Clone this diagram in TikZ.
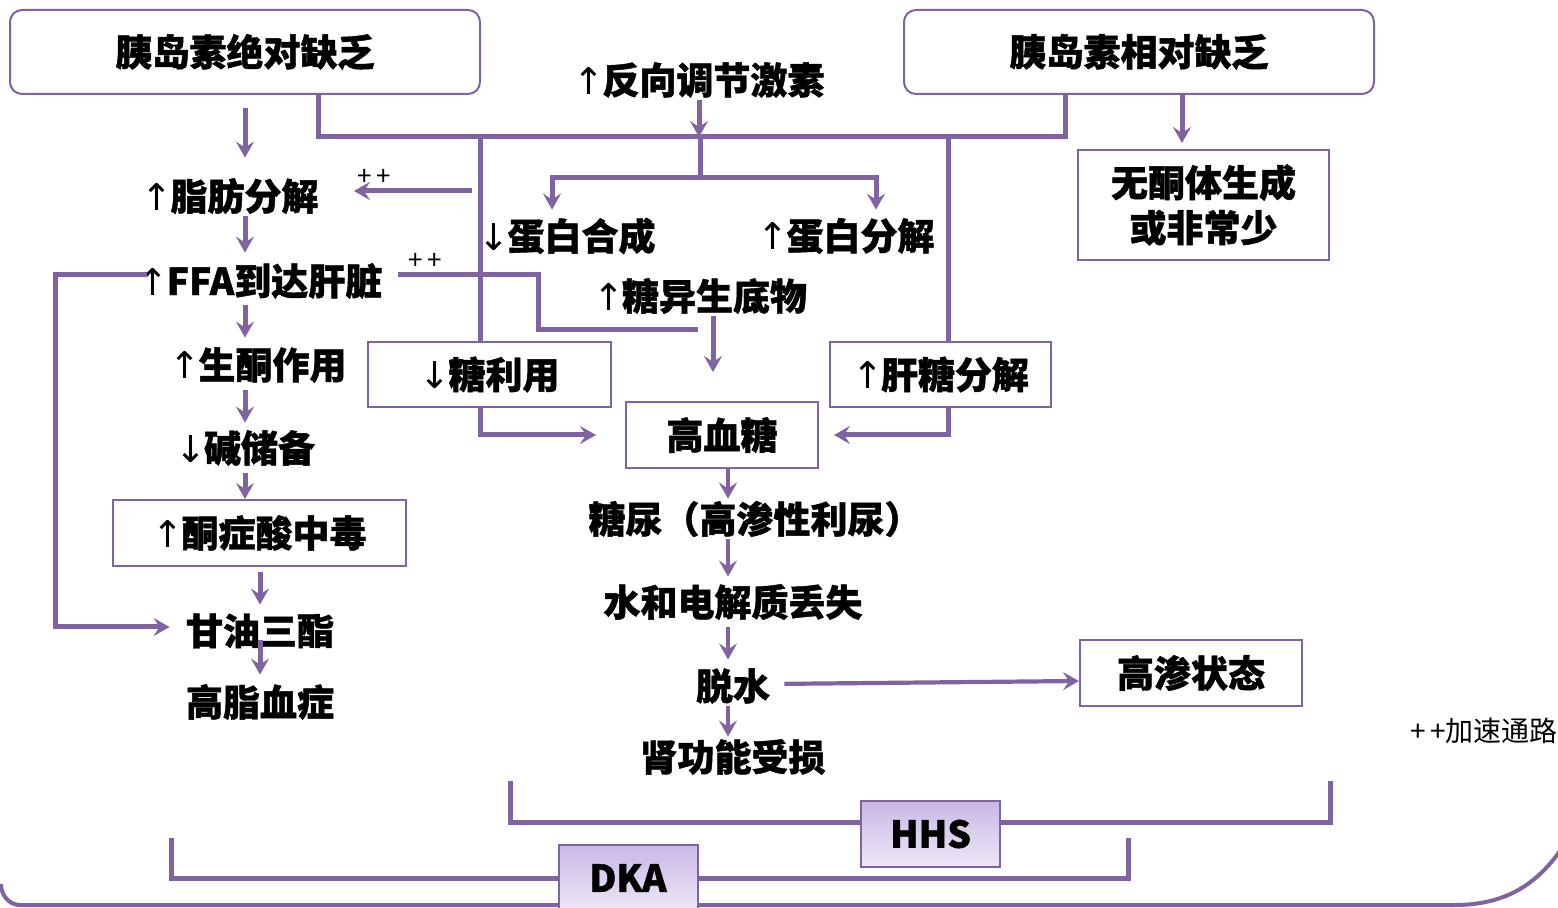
\documentclass[tikz,border=0pt]{standalone}
\usepackage{fontspec}
\setmainfont{Noto Sans CJK SC}[BoldFeatures={FakeBold=1.2}]
\newfontfamily\arwfont{DejaVu Sans}
\newcommand{\uar}{{\arwfont\mdseries ↑}\kern-1pt}
\newcommand{\dar}{{\arwfont\mdseries ↓}\kern-1pt}
\usetikzlibrary{arrows.meta,calc}
\definecolor{pur}{HTML}{8064A2}
\definecolor{gtop}{HTML}{C9B7E6}
\definecolor{gbot}{HTML}{EEE8F7}
\tikzset{
 every node/.style={inner sep=0pt},
 lbl/.style={font=\bfseries\fontsize{18.5pt}{22.5pt}\selectfont, minimum height=20pt},
 bx/.style={lbl, draw=pur, line width=1pt, fill=white},
 rbx/.style={bx, rounded corners=6pt},
 ln/.style={draw=pur, line width=2.5pt},
 arr/.style={ln, -{Stealth[length=8pt,width=9pt,inset=3pt]}},
 carr/.style={arr, line width=2.1pt},
 plus/.style={font=\fontsize{13pt}{14pt}\selectfont},
 kbox/.style={lbl, draw=pur, line width=1pt, top color=gtop, bottom color=gbot, minimum width=69.5pt, minimum height=33pt},
}
\begin{document}
\begin{tikzpicture}[x=0.5pt,y=-0.5pt]
\useasboundingbox (0,0) rectangle (1558,908);
% helper coordinates
\coordinate (colL) at (245,0);
\coordinate (colM) at (260,0);
\coordinate (colC) at (728,0);
\coordinate (jL) at (318,137);
\coordinate (jR) at (1065,137);
\coordinate (jC) at (700,137);
\coordinate (split) at (700,178);
\coordinate (v480) at (480,137);
\coordinate (v948) at (948,137);
\coordinate (pp1) at (472,191);
\coordinate (f1) at (538,275);
\coordinate (ffaEnd) at (698,330);
\coordinate (lp) at (55,627);
\coordinate (hA) at (510,781);
\coordinate (hA2) at (510,822);
\coordinate (hB2) at (1330,822);
\coordinate (hB) at (1330,781);
\coordinate (dA) at (171,838);
\coordinate (dA2) at (171,878);
\coordinate (dB2) at (1128,878);
\coordinate (dB) at (1128,838);
\coordinate (fr1) at (1,884);
\coordinate (fr2) at (20,905);
\coordinate (fr3) at (1455,905);
\coordinate (fr4) at (1562,848);
% brackets and frame
\draw[ln] (hA) -- (hA2) -- (hB2) -- (hB);
\draw[ln] (dA) -- (dA2) -- (dB2) -- (dB);
\draw[ln, line width=2pt] (fr1) to[out=-90,in=180] (fr2) -- (fr3) .. controls (1510,905) and (1540,880) .. (fr4);
% nodes
\node[rbx, minimum width=235pt, minimum height=42pt] (b1) at (245,52) {胰岛素绝对缺乏};
\node[rbx, minimum width=235pt, minimum height=42pt] (b2) at (1139,52) {胰岛素相对缺乏};
\node[lbl] (cr) at (699,80) {\uar 反向调节激素};
\node[bx, minimum width=125.5pt, minimum height=55pt, align=center] (nk) at (1203.5,205) {无酮体生成\\或非常少};
\node[lbl] (lipo) at (230,196) {\uar 脂肪分解};
\node[lbl] (ffa) at (260,281) {\uar FFA到达肝脏};
\node[lbl] (gen) at (258,365) {\uar 生酮作用};
\node[lbl] (alk) at (245,448) {\dar 碱储备};
\node[bx, minimum width=146.5pt, minimum height=33pt] (keto) at (259.5,533) {\uar 酮症酸中毒};
\node[lbl] (tg) at (260,631) {甘油三酯};
\node[lbl] (hl) at (260,702) {高脂血症};
\node[lbl] (psyn) at (567,236) {\dar 蛋白合成};
\node[lbl] (pdeg) at (846,236) {\uar 蛋白分解};
\node[lbl] (gs) at (700,296) {\uar 糖异生底物};
\node[bx, minimum width=121.5pt, minimum height=32.5pt] (glu) at (489.5,374.5) {\dar 糖利用};
\node[bx, minimum width=110.5pt, minimum height=32.5pt] (liver) at (940.5,374.5) {\uar 肝糖分解};
\node[bx, minimum width=96pt, minimum height=33pt] (hyper) at (722,435) {高血糖};
\node[lbl] (dia) at (755,519) {糖尿（高渗性利尿）};
\node[lbl] (water) at (733,602) {水和电解质丢失};
\node[lbl] (dehyd) at (733,686) {脱水};
\node[lbl] (renal) at (733,757) {肾功能受损};
\node[bx, minimum width=111pt, minimum height=33pt] (hos) at (1191,673) {高渗状态};
\node[font=\fontsize{14pt}{15pt}\selectfont] (legend) at (1484,731) {+\,+加速通路};
\node[kbox] (hhs) at (930.5,834) {HHS};
\node[kbox] (dka) at (628,878) {DKA};
\node[plus] (pl1) at (374,177) {+\,+};
\node[plus] (pl2) at (425,261) {+\,+};
% top network
\draw[ln] (b1.south -| jL) -- (jL) -- (jR) -- (b2.south -| jR);
\draw[arr] (cr.south) -- (cr.south |- jC);
\draw[ln] (jC) -- (split);
\draw[arr, shorten >=3pt] (split) -| ([xshift=-7.5pt]psyn.north);
\draw[arr, shorten >=3pt] (split) -| ([xshift=15pt]pdeg.north);
\draw[ln] (v480) -- (v480 |- glu.north);
\draw[arr, shorten >=14.5pt] (glu.south -| v480) |- (hyper.west);
\draw[ln] (v948) -- (v948 |- liver.north);
\draw[arr, shorten >=7.5pt] (liver.south -| v948) |- (hyper.east);
\draw[arr, shorten >=17.5pt] (pp1) -- (lipo.east |- pp1);
\draw[ln, shorten <=7.5pt] (ffa.east |- f1) -- (f1) |- (ffaEnd);
\draw[arr, shorten <=-5pt, shorten >=8pt] (ffa.west |- f1) -| (lp) -- (tg.west |- lp);
\draw[arr, shorten >=14.5pt] ([xshift=6.5pt]gs.south) -- ([xshift=-4.5pt]hyper.north);
% left column
\draw[arr, shorten <=6.5pt, shorten >=9pt] (b1.south -| colL) -- (lipo.north -| colL);
\draw[arr, shorten >=4pt] (lipo.south -| colL) -- (ffa.north -| colL);
\draw[arr, shorten <=2pt, shorten >=3.5pt] (ffa.south -| colL) -- (gen.north -| colL);
\draw[arr, shorten <=2.5pt, shorten >=2.5pt] (gen.south -| colL) -- (alk.north -| colL);
\draw[arr, shorten <=2.5pt] (alk.south -| colL) -- (keto.north -| colL);
\draw[arr, shorten <=2.5pt, shorten >=3pt] (keto.south -| colM) -- (tg.north -| colM);
\draw[arr, shorten >=3.5pt] ([yshift=-4.5pt]tg.center) -- (hl.north);
% center column
\draw[carr] (hyper.south -| colC) -- (dia.north -| colC);
\draw[carr, shorten >=2.5pt] (dia.south -| colC) -- (water.north -| colC);
\draw[carr, shorten <=2.5pt, shorten >=3pt] (water.south -| colC) -- (dehyd.north -| colC);
\draw[carr] (dehyd.south -| colC) -- (renal.north -| colC);
\draw[carr, shorten <=7pt] ([yshift=1pt]dehyd.east) -- ([yshift=-4pt]hos.west);
% top-right arrow
\draw[arr, shorten >=3pt] (b2.south -| 1182,0) -- (nk.north -| 1182,0);
\end{tikzpicture}
\end{document}
